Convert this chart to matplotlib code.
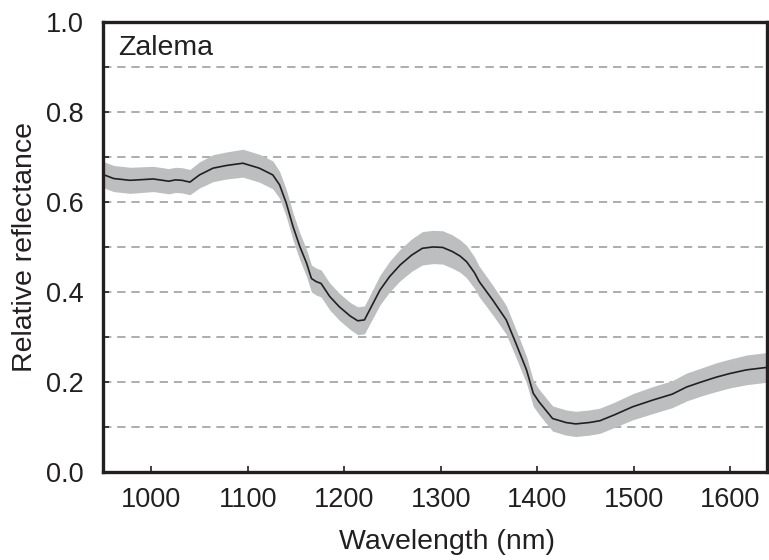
import matplotlib.pyplot as plt
import numpy as np

# values
wavelength = [950, 961, 978, 1002, 1012, 1018, 1025, 1032, 1040, 1050,
              1064, 1078, 1095, 1112, 1126, 1133, 1140, 1147, 1154, 1161,
              1166, 1171, 1176, 1185, 1195, 1206, 1214, 1221, 1230, 1237,
              1247, 1258, 1270, 1281, 1292, 1302, 1312, 1320, 1327, 1335,
              1340, 1354, 1368, 1378, 1389, 1396, 1402, 1416, 1430, 1440,
              1454, 1465, 1480, 1499, 1520, 1540, 1555, 1570, 1586, 1600,
              1617, 1640]
reflectance = [0.661, 0.652, 0.648, 0.651, 0.648, 0.646, 0.649, 0.648, 0.644, 0.660,
               0.675, 0.681, 0.686, 0.675, 0.660, 0.638, 0.597, 0.545, 0.501, 0.464,
               0.430, 0.423, 0.419, 0.390, 0.367, 0.347, 0.336, 0.338, 0.375, 0.404,
               0.434, 0.460, 0.482, 0.497, 0.500, 0.499, 0.490, 0.480, 0.467, 0.443,
               0.423, 0.382, 0.338, 0.286, 0.227, 0.175, 0.156, 0.119, 0.110, 0.107,
               0.110, 0.114, 0.127, 0.145, 0.160, 0.173, 0.189, 0.200, 0.211, 0.219,
               0.227, 0.233]
spread = [0.029, 0.029, 0.029, 0.028, 0.028, 0.028, 0.028, 0.028, 0.028, 0.029,
          0.030, 0.030, 0.031, 0.031, 0.031, 0.030, 0.030, 0.030, 0.030, 0.030,
          0.030, 0.030, 0.030, 0.030, 0.030, 0.030, 0.031, 0.031, 0.032, 0.033,
          0.034, 0.035, 0.036, 0.037, 0.037, 0.037, 0.037, 0.036, 0.036, 0.035,
          0.034, 0.033, 0.032, 0.031, 0.030, 0.029, 0.028, 0.028, 0.028, 0.028,
          0.028, 0.028, 0.028, 0.029, 0.030, 0.030, 0.031, 0.031, 0.032, 0.032,
          0.033, 0.033]
label = "Zalema"

ink = "#231f20"
plt.rcParams['font.family'] = ['Liberation Sans', 'DejaVu Sans']

fig = plt.figure(figsize=(7.69, 5.6), dpi=100)
ax = fig.add_axes([0.134, 0.157, 0.863, 0.804])

wl = np.array(wavelength)
r = np.array(reflectance)
s = np.array(spread)
ax.fill_between(wl, r - s, r + s, color="#bcbec0", lw=0, zorder=2)
ax.plot(wl, r, color=ink, lw=1.2, zorder=3)

ax.set_xlim(950, 1638)
ax.set_ylim(0, 1.0)
ax.set_xticks([1000, 1100, 1200, 1300, 1400, 1500, 1600])
ax.set_yticks([0.0, 0.2, 0.4, 0.6, 0.8, 1.0])
ax.set_yticks(np.arange(0.1, 1.0, 0.2), minor=True)
ax.yaxis.set_major_formatter(plt.FormatStrFormatter('%.1f'))

for yv in np.arange(0.1, 1.0, 0.1):
    ax.axhline(yv, color="#9d9fa2", lw=1.2, ls=(0, (5, 3.5)), zorder=1)

ax.tick_params(which='both', direction='in', length=4, width=1.2,
               color=ink, labelcolor=ink, labelsize=19.5)
ax.tick_params(axis='x', pad=11)
ax.tick_params(axis='y', pad=14)
for sp in ax.spines.values():
    sp.set_linewidth(2.4)
    sp.set_color(ink)

ax.set_xlabel("Wavelength (nm)", fontsize=20.5, color=ink)
ax.xaxis.set_label_coords(0.518, -0.127)
ax.set_ylabel("Relative reflectance", fontsize=20.5, color=ink)
ax.yaxis.set_label_coords(-0.098, 0.5)
ax.text(0.022, 0.97, label, transform=ax.transAxes, fontsize=20.5,
        color=ink, va='top', ha='left')

fig.savefig("out.png", dpi=100)
